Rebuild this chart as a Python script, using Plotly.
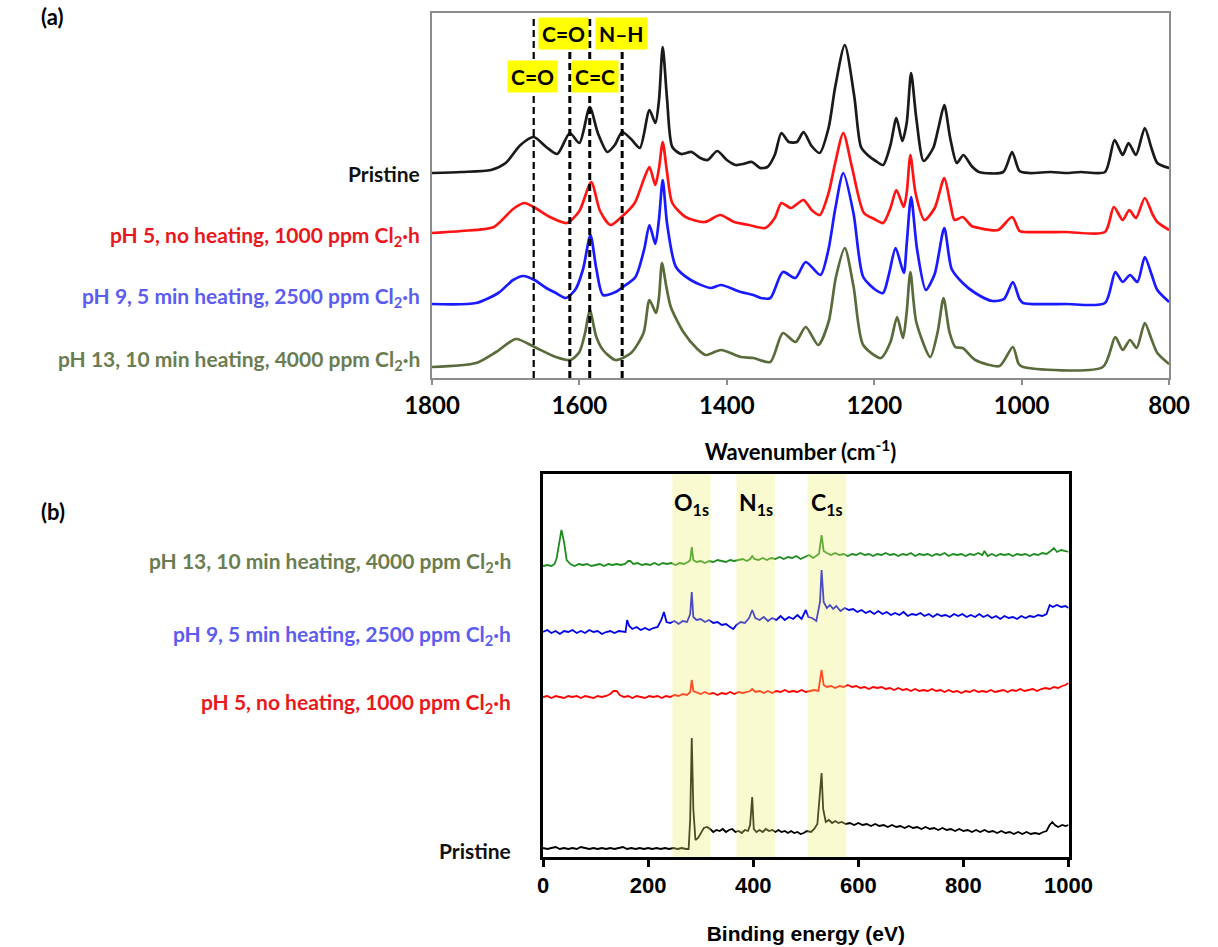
import plotly.graph_objects as go

W, H = 1218, 947

# ---------------- (a) FTIR data (wavenumber, relative absorbance a.u.) ----------------
ftir_pristine = [(1800,0),(1760,1),(1720,3),(1700,10),(1680,28),(1662,36),(1645,26),(1630,19),(1613,40),(1600,30),(1586,66),(1575,40),(1562,21),(1552,28),(1542,41),(1530,34),(1518,25),(1505,63),(1497,50),(1492,73),(1487,126),(1481,73),(1474,26),(1462,19),(1448,21),(1436,15),(1426,13),(1413,22),(1400,13),(1388,8),(1378,9),(1366,11),(1355,5),(1345,6),(1335,18),(1326,40),(1316,31),(1305,31),(1296,41),(1285,27),(1274,20),(1262,45),(1253,86),(1240,128),(1227,76),(1218,26),(1209,18),(1198,12),(1188,8),(1178,28),(1170,55),(1162,32),(1156,50),(1150,100),(1143,55),(1133,12),(1120,25),(1113,45),(1105,68),(1097,35),(1088,10),(1079,18),(1068,7),(1058,1),(1025,1),(1013,21),(1003,2),(990,0),(960,1),(940,0),(920,1),(887,1),(874,33),(863,18),(855,30),(845,18),(833,45),(824,25),(816,10),(800,5)]
ftir_ph5 = [(1800,0),(1760,2),(1716,6),(1690,24),(1675,30),(1662,26),(1640,16),(1617,10),(1600,22),(1584,51),(1572,22),(1558,8),(1543,16),(1525,30),(1512,55),(1505,66),(1497,48),(1492,65),(1487,91),(1481,60),(1474,30),(1456,16),(1430,11),(1409,18),(1390,11),(1370,8),(1348,5),(1335,15),(1326,30),(1313,25),(1296,33),(1285,23),(1274,18),(1262,40),(1253,70),(1242,100),(1230,65),(1214,20),(1200,14),(1188,10),(1178,25),(1170,43),(1160,26),(1156,40),(1151,78),(1144,40),(1132,13),(1118,25),(1105,55),(1097,30),(1091,13),(1080,16),(1068,7),(1058,5),(1032,3),(1013,16),(1003,2),(997,1),(940,1),(887,1),(875,26),(863,13),(854,23),(845,15),(833,35),(822,18),(816,11),(800,3)]
ftir_ph9 = [(1800,0),(1740,1),(1710,11),(1690,24),(1676,28),(1661,24),(1645,16),(1632,11),(1618,6),(1605,15),(1595,35),(1585,69),(1577,35),(1568,9),(1551,12),(1541,17),(1524,27),(1512,55),(1505,79),(1497,60),(1492,85),(1487,124),(1481,80),(1469,37),(1449,24),(1422,16),(1408,19),(1381,12),(1364,9),(1354,6),(1341,6),(1324,32),(1307,26),(1293,42),(1273,29),(1262,55),(1253,95),(1242,131),(1228,90),(1215,27),(1198,14),(1188,11),(1180,30),(1171,56),(1160,31),(1156,60),(1150,107),(1142,55),(1130,14),(1118,30),(1105,76),(1095,35),(1080,21),(1063,11),(1040,3),(1024,5),(1012,22),(1003,5),(998,1),(940,0),(887,1),(873,32),(863,22),(853,29),(843,22),(833,47),(824,30),(816,14),(800,2)]
ftir_ph13 = [(1800,0),(1740,4),(1713,15),(1686,28),(1661,20),(1632,10),(1612,7),(1600,15),(1592,35),(1586,57),(1577,30),(1568,17),(1551,7),(1530,14),(1513,34),(1505,67),(1496,54),(1492,70),(1488,104),(1482,80),(1476,60),(1459,35),(1440,18),(1429,12),(1408,17),(1381,10),(1364,9),(1341,5),(1324,34),(1307,25),(1293,40),(1276,22),(1262,45),(1252,90),(1240,119),(1228,80),(1215,22),(1191,9),(1178,25),(1169,50),(1161,29),(1156,55),(1151,95),(1143,45),(1124,10),(1114,35),(1106,69),(1098,35),(1090,20),(1080,19),(1063,7),(1030,1),(1012,20),(1004,3),(998,0),(890,0),(873,30),(863,17),(853,27),(844,19),(833,44),(824,28),(816,14),(800,3)]
ftir_offsets = [205, 145, 74, 11]
ftir_marker_wn = [1662, 1613, 1586, 1542]
ftir_marker_text = ["C=O", "C=O", "C=C", "N–H"]
ftir_marker_label_wn = [1664, 1622, 1579, 1543]
ftir_marker_label_row = [1, 0, 1, 0]
ftir_ticks = [1800, 1600, 1400, 1200, 1000, 800]

# ---------------- (b) XPS survey data (binding energy eV, relative counts a.u.) ----------------
xps_pristine = [(0,1),(8,0),(16,1),(24,2),(32,0),(40,1),(48,0),(56,1),(64,0),(72,2),(80,1),(88,0),(96,1),(104,0),(112,1),(120,0),(128,1),(136,0),(144,1),(152,2),(160,0),(168,1),(176,0),(184,1),(192,0),(200,1),(208,0),(216,1),(224,0),(232,1),(240,0),(248,1),(256,0),(264,1),(272,0),(277,0),(280,30),(283,111),(286,40),(290,9),(295,11),(300,15),(306,21),(312,22),(318,20),(324,17),(330,19),(336,18),(342,20),(348,17),(354,19),(360,20),(366,17),(372,18),(378,16),(384,19),(390,18),(394,24),(398,52),(401,20),(406,17),(412,19),(418,17),(424,20),(430,18),(436,19),(442,17),(448,19),(454,17),(460,18),(466,16),(472,18),(478,16),(484,17),(490,15),(496,16),(502,18),(510,17),(516,20),(522,25),(527,60),(530,76),(533,40),(538,27),(544,29),(550,26),(556,28),(562,26),(568,27),(576,25),(584,26),(592,24),(600,26),(608,24),(616,25),(624,23),(632,25),(640,23),(648,24),(656,22),(664,24),(672,22),(680,23),(688,21),(696,23),(704,21),(712,22),(720,20),(728,22),(736,20),(744,21),(752,19),(760,21),(768,19),(776,20),(784,18),(792,20),(800,18),(808,19),(816,17),(824,19),(832,17),(840,19),(848,17),(856,18),(864,16),(872,18),(880,16),(888,17),(896,15),(904,17),(912,15),(920,17),(928,15),(936,16),(944,15),(952,17),(958,18),(964,24),(969,27),(974,24),(980,22),(988,24),(994,23),(1000,24)]
xps_ph5 = [(0,0),(8,1),(16,-1),(24,1),(32,0),(40,-1),(48,1),(56,0),(64,1),(72,-1),(80,1),(88,0),(96,-1),(104,1),(112,0),(120,1),(128,3),(134,6),(140,6),(146,2),(154,0),(162,1),(170,-1),(178,1),(186,0),(194,-1),(202,1),(210,0),(218,1),(226,-1),(234,1),(242,0),(250,2),(258,1),(266,3),(274,2),(280,5),(283,17),(286,6),(292,5),(300,3),(308,5),(316,3),(324,4),(332,2),(340,4),(348,3),(356,5),(364,3),(372,5),(380,4),(388,5),(394,6),(398,8),(404,5),(412,6),(420,4),(428,6),(436,4),(444,6),(452,5),(460,7),(468,5),(476,6),(484,5),(492,7),(500,5),(508,6),(516,7),(524,6),(530,27),(534,12),(540,10),(548,11),(556,9),(564,11),(572,10),(580,12),(588,10),(596,11),(604,9),(612,10),(620,8),(628,10),(636,9),(644,10),(652,8),(660,9),(668,7),(676,9),(684,7),(692,8),(700,6),(708,8),(716,6),(724,7),(732,6),(740,8),(748,6),(756,7),(764,5),(772,7),(780,5),(788,6),(796,4),(804,6),(812,5),(820,7),(828,5),(836,6),(844,5),(852,7),(860,5),(868,6),(876,7),(884,5),(892,7),(900,6),(908,8),(916,6),(924,7),(932,8),(940,6),(948,8),(956,9),(964,8),(972,10),(980,9),(988,11),(994,12),(1000,14)]
xps_ph9 = [(0,0),(8,2),(16,-1),(24,1),(32,-2),(40,1),(48,0),(56,2),(64,-1),(72,1),(80,-1),(88,2),(96,0),(104,1),(112,-2),(120,0),(128,1),(136,-1),(144,1),(152,0),(157,0),(160,12),(164,6),(170,3),(178,5),(186,2),(194,4),(202,2),(210,4),(218,5),(225,12),(230,20),(235,10),(242,9),(250,11),(258,8),(266,11),(274,10),(280,18),(283,40),(286,15),(292,12),(300,13),(308,10),(316,12),(324,9),(332,10),(340,7),(348,8),(356,5),(362,3),(368,7),(376,10),(384,9),(392,14),(398,22),(404,14),(412,12),(420,15),(428,11),(436,14),(444,12),(452,16),(460,12),(468,15),(476,13),(484,17),(492,13),(500,22),(505,15),(512,14),(520,11),(527,30),(530,62),(534,30),(540,24),(546,27),(552,23),(558,26),(566,21),(574,24),(582,22),(590,23),(598,20),(606,22),(614,19),(622,21),(630,18),(638,21),(646,18),(654,20),(662,17),(670,19),(678,17),(686,20),(694,16),(702,18),(710,17),(718,19),(726,16),(734,18),(742,15),(750,18),(758,16),(766,17),(774,15),(782,18),(790,16),(798,18),(806,15),(814,17),(822,15),(830,18),(838,15),(846,17),(854,14),(862,16),(870,13),(878,16),(886,14),(894,15),(902,13),(910,16),(918,14),(926,16),(934,15),(942,17),(950,16),(958,18),(964,27),(970,25),(978,27),(986,25),(994,26),(1000,24)]
xps_ph13 = [(0,0),(8,1),(16,0),(22,2),(26,8),(30,22),(35,36),(40,24),(45,6),(52,2),(60,0),(68,2),(76,1),(84,2),(92,0),(100,1),(108,2),(116,0),(124,2),(132,1),(140,2),(148,1),(156,2),(162,5),(166,5),(172,2),(180,3),(188,1),(196,2),(204,1),(212,3),(220,1),(228,3),(236,2),(244,3),(252,1),(260,3),(268,2),(276,4),(280,6),(283,19),(286,6),(292,4),(300,5),(308,3),(316,5),(324,4),(332,6),(340,5),(348,4),(356,6),(364,5),(372,6),(380,7),(388,5),(394,7),(398,10),(402,7),(410,6),(418,8),(426,6),(434,8),(442,7),(450,9),(458,7),(466,9),(474,8),(482,10),(490,7),(498,9),(506,11),(514,8),(520,10),(525,12),(530,31),(534,15),(540,13),(548,11),(556,13),(564,11),(572,12),(580,10),(588,12),(596,11),(604,13),(612,11),(620,12),(628,10),(636,12),(644,11),(652,13),(660,11),(668,12),(676,10),(684,12),(692,11),(700,13),(708,10),(716,12),(724,11),(732,12),(740,10),(748,12),(756,11),(764,13),(772,10),(780,12),(788,11),(796,12),(804,10),(812,12),(820,11),(828,13),(836,11),(840,15),(846,10),(854,12),(862,10),(870,12),(878,11),(886,12),(894,10),(902,12),(910,11),(918,12),(926,10),(934,12),(942,11),(950,13),(958,12),(966,15),(972,18),(978,14),(986,16),(994,15),(1000,14)]
xps_offsets = [8, 160, 225, 291]
xps_bands = [(246, 319), (368, 441), (503, 577)]
xps_band_labels = ["O<sub>1s</sub>", "N<sub>1s</sub>", "C<sub>1s</sub>"]
xps_ticks = [0, 200, 400, 600, 800, 1000]

sample_labels = ["Pristine",
                 "pH 5, no heating, 1000 ppm Cl<sub>2</sub>·h",
                 "pH 9, 5 min heating, 2500 ppm Cl<sub>2</sub>·h",
                 "pH 13, 10 min heating, 4000 ppm Cl<sub>2</sub>·h"]

# ---------------- styles ----------------
ftir_colors = ["#1a1a1a", "#ff1414", "#1a1aff", "#5a6b3b"]
xps_colors = ["#000000", "#ff0000", "#0000e6", "#1e8c1e"]
label_colors = ["#111111", "#e8181c", "#5c5cf0", "#6b7d50"]
ftir_label_y = [174, 236, 297, 360]   # pixel centres
xps_label_y = [850, 703, 635, 562]

def px(x):
    return x / W

def py(y):
    return 1 - y / H

def bold(family, size, color="black"):
    return dict(family=family, size=size, color=color, weight="bold")

# plot area rectangles in pixels
A = dict(l=422, r=1192, t=13, b=378)
B = dict(l=538, r=1087, t=474, b=857)

fig = go.Figure()

for data, off, col in zip([ftir_pristine, ftir_ph5, ftir_ph9, ftir_ph13], ftir_offsets, ftir_colors):
    fig.add_trace(go.Scatter(x=[d[0] for d in data], y=[d[1] + off for d in data],
                             mode="lines", line=dict(color=col, width=2.7, shape="spline", smoothing=0.7),
                             xaxis="x", yaxis="y", showlegend=False, hoverinfo="skip"))

for data, off, col in zip([xps_pristine, xps_ph5, xps_ph9, xps_ph13], xps_offsets, xps_colors):
    fig.add_trace(go.Scatter(x=[d[0] for d in data], y=[d[1] + off for d in data],
                             mode="lines", line=dict(color=col, width=1.8),
                             xaxis="x2", yaxis="y2", showlegend=False, hoverinfo="skip"))

shapes = []
# dashed marker lines in (a)
for i, wn in enumerate(ftir_marker_wn):
    shapes.append(dict(type="line", xref="x", yref="paper", x0=wn, x1=wn,
                       y0=py(A["b"]), y1=py(A["t"] + 3),
                       line=dict(color="black", width=2.2 if i == 0 else 3, dash="7px,4px")))
# highlighted bands in (b), drawn above the traces
for lo, hi in xps_bands:
    shapes.append(dict(type="rect", xref="x2", yref="paper", x0=lo, x1=hi,
                       y0=py(B["b"]), y1=py(B["t"]), layer="above",
                       fillcolor="rgba(240,240,110,0.32)", line=dict(width=0)))

annotations = []
row_y = [33, 76]
for txt, wn, row in zip(ftir_marker_text, ftir_marker_label_wn, ftir_marker_label_row):
    annotations.append(dict(x=wn, xref="x", y=py(row_y[row]), yref="paper", text=txt,
                            showarrow=False, bgcolor="#ffff00", borderpad=3,
                            font=bold("Lato", 21), xanchor="center", yanchor="middle"))
for lbl, yy, col in zip(sample_labels, ftir_label_y, label_colors):
    annotations.append(dict(x=px(412), xref="paper", y=py(yy), yref="paper", text=lbl,
                            showarrow=False, xanchor="right", yanchor="middle",
                            font=bold("Lato", 21, col)))
for lbl, yy, col in zip(sample_labels, xps_label_y, label_colors):
    annotations.append(dict(x=px(507), xref="paper", y=py(yy), yref="paper", text=lbl,
                            showarrow=False, xanchor="right", yanchor="middle",
                            font=bold("Lato", 21, col)))
for (lo, hi), lbl in zip(xps_bands, xps_band_labels):
    annotations.append(dict(x=(lo + hi) / 2, xref="x2", y=py(503), yref="paper", text=lbl,
                            showarrow=False, xanchor="center", yanchor="middle",
                            font=bold("Lato", 23)))
annotations.append(dict(x=px(12), xref="paper", y=py(17), yref="paper", text="(a)", showarrow=False,
                        xanchor="left", yanchor="middle", font=bold("Lato", 22)))
annotations.append(dict(x=px(12), xref="paper", y=py(511), yref="paper", text="(b)", showarrow=False,
                        xanchor="left", yanchor="middle", font=bold("Lato", 22)))

fig.update_layout(
    width=W, height=H, margin=dict(l=0, r=0, t=0, b=0),
    paper_bgcolor="white", plot_bgcolor="white",
    shapes=shapes, annotations=annotations,
    xaxis=dict(domain=[px(A["l"]), px(A["r"])], range=[1800, 800], anchor="y",
               tickvals=ftir_ticks, ticktext=[str(t) for t in ftir_ticks],
               ticks="outside", ticklen=5, tickwidth=2, tickcolor="#8c8c8c",
               showline=True, linecolor="#8c8c8c", linewidth=2, mirror=True,
               showgrid=False, zeroline=False,
               tickfont=bold("Lato", 24),
               title=dict(text="Wavenumber (cm<sup>-1</sup>)", font=bold("Lato", 22), standoff=27)),
    yaxis=dict(domain=[py(A["b"]), py(A["t"])], range=[0, A["b"] - A["t"]], anchor="x",
               showticklabels=False, ticks="", showline=True, linecolor="#8c8c8c", linewidth=2,
               mirror=True, showgrid=False, zeroline=False),
    xaxis2=dict(domain=[px(B["l"]), px(B["r"])], range=[0, 1000], anchor="y2",
                tickvals=xps_ticks, ticktext=[str(t) for t in xps_ticks],
                ticks="outside", ticklen=7, tickwidth=3, tickcolor="black",
                showline=True, linecolor="black", linewidth=3, mirror=True,
                showgrid=False, zeroline=False,
                tickfont=bold("Liberation Sans", 22),
                title=dict(text="Binding energy (eV)", font=bold("Liberation Sans", 21), standoff=29)),
    yaxis2=dict(domain=[py(B["b"]), py(B["t"])], range=[0, B["b"] - B["t"]], anchor="x2",
                showticklabels=False, ticks="", showline=True, linecolor="black", linewidth=3,
                mirror=True, showgrid=False, zeroline=False),
)

fig.write_html("out.html")
